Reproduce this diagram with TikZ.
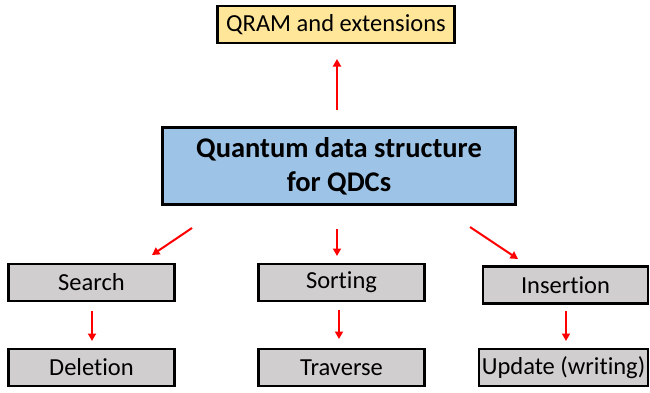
\documentclass[tikz,border=0pt]{standalone}
\usepackage{fontspec}
\setmainfont{Carlito}[Ligatures={NoCommon}]
\usetikzlibrary{arrows.meta}
\definecolor{qyellow}{HTML}{FFE699}
\definecolor{qblue}{HTML}{9DC3E6}
\definecolor{qgray}{HTML}{D0CECE}
\tikzset{
  x=1pt,y=1pt,
  box/.style={draw=black,line width=2.6pt,inner sep=0pt,font=\fontsize{24.5}{29}\selectfont},
  arr/.style={draw=red,line width=2pt,-{Triangle[length=7.5pt,width=8pt]}}
}
\begin{document}
\begin{tikzpicture}
\useasboundingbox (0,0) rectangle (650,392);
\node[box,fill=qyellow,minimum width=237pt,minimum height=37pt] (qram) at (336,367.5) {QRAM and extensions};
\node[box,fill=qblue,minimum width=353pt,minimum height=77pt,align=center,font=\fontsize{28.5}{34}\selectfont\bfseries] (qds) at (339,226) {Quantum data structure\\for QDCs};
\node[box,fill=qgray,minimum width=166pt,minimum height=37pt] (search) at (91.5,109.5) {Search};
\node[box,fill=qgray,minimum width=166pt,minimum height=37pt] (sort) at (341.5,109.5) {Sorting};
\node[box,fill=qgray,minimum width=165pt,minimum height=37pt] (ins) at (565.5,107) {Insertion};
\node[box,fill=qgray,minimum width=166pt,minimum height=37pt] (del) at (91.5,24.5) {Deletion};
\node[box,fill=qgray,minimum width=166pt,minimum height=37pt] (trav) at (341.5,24.5) {Traverse};
\node[box,fill=qgray,minimum width=169pt,minimum height=37pt] (upd) at (563.5,24.5) {Update (writing)};
\coordinate (a1s) at (337,282);
\coordinate (a1e) at (337,333);
\draw[arr] (a1s) -- (a1e);
\coordinate (l1) at (192,164);
\coordinate (l2) at (152,137);
\draw[arr] (l1) -- (l2);
\coordinate (m1) at (337,163);
\coordinate (m2) at (337,136);
\draw[arr] (m1) -- (m2);
\coordinate (r1) at (470,165);
\coordinate (r2) at (518,133);
\draw[arr] (r1) -- (r2);
\coordinate (s1) at (92,81);
\coordinate (s2) at (92,51);
\draw[arr] (s1) -- (s2);
\coordinate (t1) at (339,82);
\coordinate (t2) at (339,53);
\draw[arr] (t1) -- (t2);
\coordinate (u1) at (566,81);
\coordinate (u2) at (566,51);
\draw[arr] (u1) -- (u2);
\end{tikzpicture}
\end{document}
